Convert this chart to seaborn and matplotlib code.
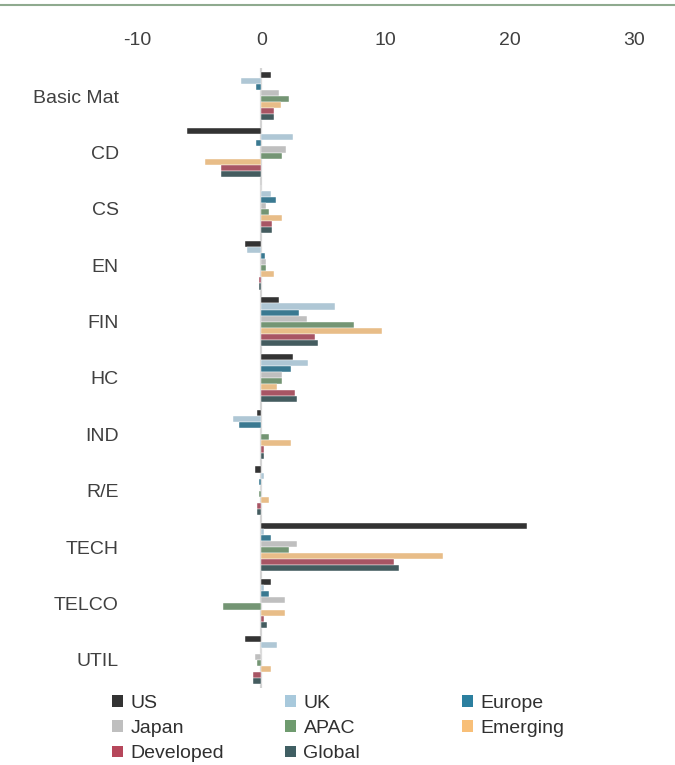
import pandas as pd
import matplotlib
matplotlib.use("Agg")
import matplotlib.pyplot as plt
import matplotlib.lines as mlines
import matplotlib.patches as patches
import seaborn as sns

# ---------------------------------------------------------
# data
# ---------------------------------------------------------
sectors = ["Basic Mat", "CD", "CS", "EN", "FIN", "HC", "IND", "R/E",
           "TECH", "TELCO", "UTIL"]
us        = [0.8, -6.0, 0.0, -1.3, 1.4, 2.55, -0.35, -0.5, 21.35, 0.8, -1.3]
uk        = [-1.6, 2.55, 0.75, -1.15, 5.9, 3.8, -2.3, 0.2, 0.2, 0.2, 1.25]
europe    = [-0.4, -0.4, 1.2, 0.3, 3.0, 2.4, -1.8, -0.2, 0.8, 0.6, 0.0]
japan     = [1.4, 2.0, 0.4, 0.4, 3.65, 1.7, 0.0, 0.0, 2.85, 1.9, -0.5]
apac      = [2.2, 1.7, 0.6, 0.4, 7.5, 1.7, 0.6, -0.15, 2.2, -3.1, -0.35]
emerging  = [1.55, -4.5, 1.7, 1.05, 9.75, 1.25, 2.4, 0.6, 14.6, 1.9, 0.75]
developed = [1.05, -3.2, 0.9, -0.2, 4.3, 2.7, 0.2, -0.35, 10.7, 0.2, -0.7]
global_   = [1.05, -3.2, 0.9, -0.2, 4.6, 2.85, 0.25, -0.35, 11.05, 0.45, -0.7]

series_names = ["US", "UK", "Europe", "Japan", "APAC", "Emerging",
                "Developed", "Global"]
series_vals = [us, uk, europe, japan, apac, emerging, developed, global_]

COLORS = ["#333333", "#a8c9dc", "#2b7f9f", "#bfbfbf", "#6f9b6f",
          "#f8bf78", "#b6475b", "#405f63"]

rows = []
for name, vals in zip(series_names, series_vals):
    for sec, v in zip(sectors, vals):
        rows.append({"Sector": sec, "Region": name, "Value": v})
df = pd.DataFrame(rows)

# ---------------------------------------------------------
# figure
# ---------------------------------------------------------
sns.set_style("white")
plt.rcParams["font.family"] = ["Liberation Sans", "DejaVu Sans"]
plt.rcParams["axes.unicode_minus"] = False

fig = plt.figure(figsize=(6.75, 7.65), dpi=100)
ax = fig.add_axes([137 / 675, 1 - 688 / 765, (634 - 137) / 675, (688 - 68) / 765])

ax.axvline(0, color="#d4d4d4", lw=1.6, zorder=0)

sns.barplot(data=df, x="Value", y="Sector", hue="Region", orient="h",
            order=sectors, hue_order=series_names, palette=COLORS,
            width=0.86, edgecolor="white", linewidth=0.3, ax=ax, legend=False)

ax.set_xlim(-10, 30)
ax.set_xticks([-10, 0, 10, 20, 30])
ax.xaxis.tick_top()
ax.tick_params(axis="x", length=0, pad=14, labelsize=14, labelcolor="#404040")
ax.tick_params(axis="y", length=0, pad=13, labelsize=14, labelcolor="#404040")
ax.set_xlabel("")
ax.set_ylabel("")
for s in ax.spines.values():
    s.set_visible(False)

# thin rule across the top of the figure
fig.add_artist(mlines.Line2D([0, 1], [1 - 5 / 765, 1 - 5 / 765],
                             color="#8faa8f", lw=1.5, transform=fig.transFigure))

# legend: three columns, each placed on its own
col_x = [112, 285, 462]
columns = [[0, 3, 6], [1, 4, 7], [2, 5]]
for cx, idx in zip(col_x, columns):
    handles = [patches.Patch(facecolor=COLORS[i], edgecolor="none",
                             label=series_names[i]) for i in idx]
    fig.legend(handles=handles, ncol=1, loc="upper left",
               bbox_to_anchor=(cx / 675, 1 - 695 / 765), frameon=False,
               fontsize=14, handlelength=0.55, handleheight=0.55,
               handletextpad=0.4, labelspacing=0.42, borderaxespad=0,
               borderpad=0, labelcolor="#303030")

fig.savefig("out.png", dpi=100)
